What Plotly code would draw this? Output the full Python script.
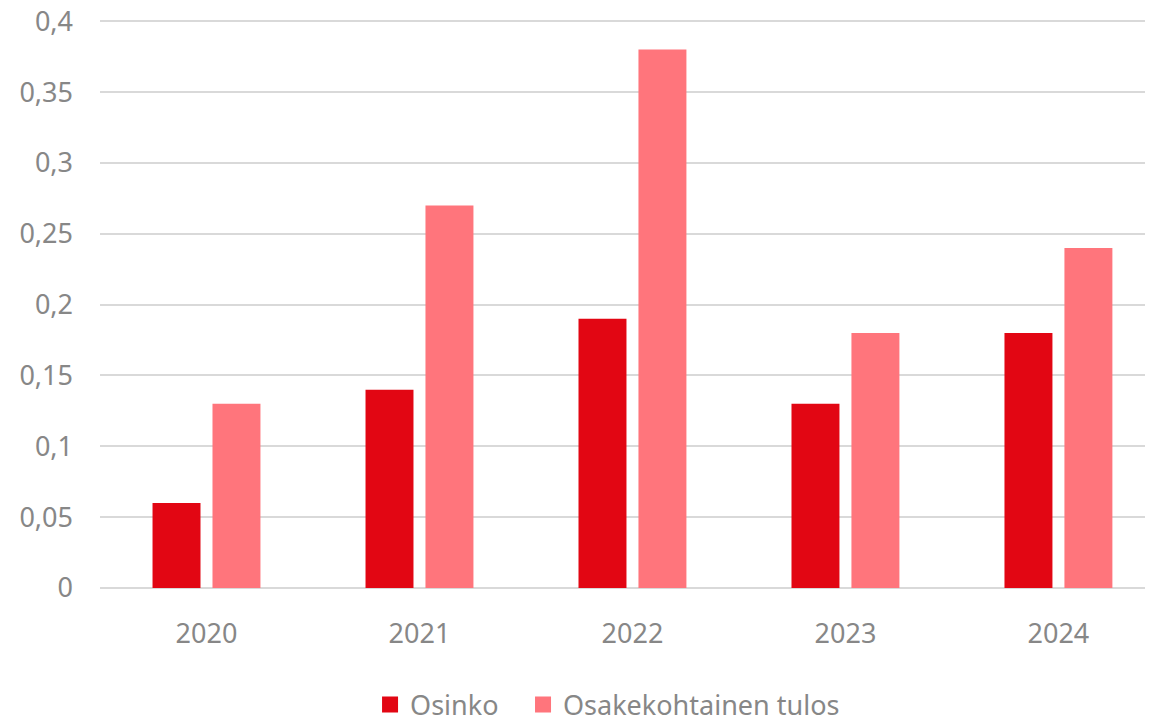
import plotly.graph_objects as go

years = ["2020", "2021", "2022", "2023", "2024"]
osinko = [0.06, 0.14, 0.19, 0.13, 0.18]
eps = [0.13, 0.27, 0.38, 0.18, 0.24]
series_names = ["Osinko", "Osakekohtainen tulos"]
colors = ["#E20613", "#FF757C"]
yticks = [0, 0.05, 0.1, 0.15, 0.2, 0.25, 0.3, 0.35, 0.4]

FONT = "Noto Sans"
GRAY = "#878787"

fig = go.Figure()
for name, vals, col in zip(series_names, [osinko, eps], colors):
    fig.add_trace(go.Bar(x=years, y=vals, name=name, marker=dict(color=col, line=dict(width=0)),
                         showlegend=False))
# legend entries with larger square symbols, one legend each for exact spacing
legend_ids = ["legend", "legend2"]
for name, col, lid in zip(series_names, colors, legend_ids):
    fig.add_trace(go.Scatter(x=[None], y=[None], mode="markers", name=name, legend=lid,
                             marker=dict(symbol="square", size=18, color=col)))

leg_common = dict(orientation="h", xref="container", yref="container", xanchor="left",
                  yanchor="middle", y=0.0169, bgcolor="rgba(0,0,0,0)",
                  font=dict(family=FONT, size=27, color=GRAY))

# page body has an 8px default margin, so the figure is sized to fit the window
fig.update_layout(
    width=1145, height=709,
    margin=dict(l=92, r=0, t=11, b=129, autoexpand=False),
    paper_bgcolor="white", plot_bgcolor="white",
    barmode="group", bargap=0.437, bargroupgap=0.2,
    separators=", ",
    font=dict(family=FONT, size=27, color=GRAY),
    legend=dict(x=0.3162, **leg_common),
    legend2=dict(x=0.4498, **leg_common),
)
fig.update_xaxes(type="category", range=[-0.5, 4.444], showgrid=False, showline=False,
                 ticks="", ticklabelstandoff=27, tickfont=dict(family=FONT, size=27, color=GRAY))
fig.update_yaxes(range=[0, 0.4016], tickvals=yticks, showgrid=True, gridcolor="#D9D9D9", gridwidth=1.5,
                 zeroline=True, zerolinecolor="#D9D9D9", zerolinewidth=1.5, showline=False,
                 ticklabeloverflow="allow",
                 ticks="", ticklabelstandoff=26, tickfont=dict(family=FONT, size=27, color=GRAY))

fig.write_html("out.html")
